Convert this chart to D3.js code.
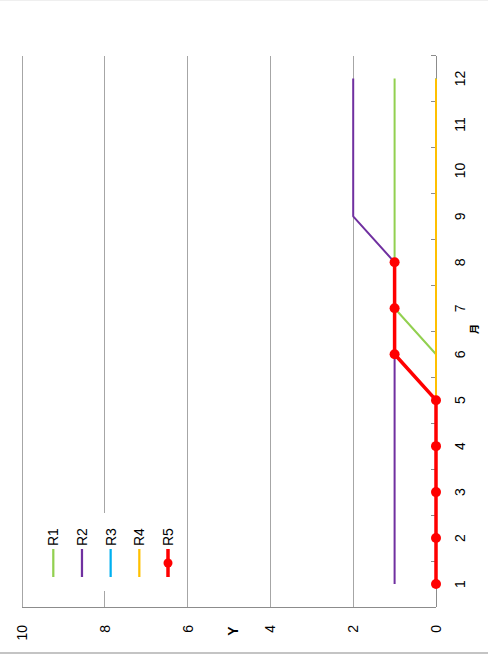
<!DOCTYPE html>
<html>
<head>
<meta charset="utf-8">
<script src="https://cdn.jsdelivr.net/npm/d3@7"></script>
<style>
html,body{margin:0;padding:0;background:#fff;}
svg{display:block;}
</style>
</head>
<body>
<svg id="chart" width="488" height="657"></svg>
<script>
// ---- data ----
const months = [1,2,3,4,5,6,7,8,9,10,11,12];
const seriesNames = ["R1","R2","R3","R4","R5"];
const R1 = [0,0,0,0,0,0,1,1,1,1,1,1];
const R2 = [1,1,1,1,1,1,1,1,2,2,2,2];
const R3 = [0,0,0,0,0,0,0,0,0,0,0,0];
const R4 = [0,0,0,0,0,0,0,0,0,0,0,0];
const R5 = [0,0,0,0,0,1,1,1];
const yTicks = [0,2,4,6,8,10];
const xTitle = "月";
const yTitle = "Y";

const colors = {R1:"#92d050",R2:"#7030a0",R3:"#00b0f0",R4:"#ffc000",R5:"#ff0000"};
const seriesData = {R1,R2,R3,R4,R5};

const svg = d3.select("#chart");
// frame lines of the screenshot
svg.append("rect").attr("x",0).attr("y",0).attr("width",488).attr("height",1).attr("fill","#efefef");
svg.append("rect").attr("x",0).attr("y",652).attr("width",488).attr("height",2).attr("fill","#c4c4c4");

// chart drawn in its own (unrotated) frame 657 x 488, then rotated -90deg
const g = svg.append("g").attr("transform","translate(0,657) rotate(-90)");
const font = "'Liberation Sans', Arial, sans-serif";

const x = d3.scaleLinear().domain([0.5,12.5]).range([50,601.5]);
const y = d3.scaleLinear().domain([0,10]).range([436,22]);

// gridlines
g.append("g").selectAll("line").data(yTicks.filter(d=>d>0)).join("line")
  .attr("x1",x(0.5)).attr("x2",x(12.5))
  .attr("y1",d=>y(d)).attr("y2",d=>y(d))
  .attr("stroke","#a6a6a6").attr("stroke-width",1).attr("shape-rendering","crispEdges");

// value axis line
g.append("line").attr("x1",x(0.5)).attr("x2",x(0.5)).attr("y1",y(0)).attr("y2",y(10))
  .attr("stroke","#8c8c8c").attr("stroke-width",1).attr("shape-rendering","crispEdges");

// category axis line + inside ticks at boundaries
g.append("line").attr("x1",x(0.5)).attr("x2",x(12.5)).attr("y1",y(0)).attr("y2",y(0))
  .attr("stroke","#8c8c8c").attr("stroke-width",1).attr("shape-rendering","crispEdges");
const bounds = d3.range(1.5,13,1);
g.append("g").selectAll("line").data(bounds).join("line")
  .attr("x1",d=>x(d)).attr("x2",d=>x(d))
  .attr("y1",y(0)).attr("y2",y(0)-5.5)
  .attr("stroke","#8c8c8c").attr("stroke-width",1).attr("shape-rendering","crispEdges");

// value labels
g.append("g").selectAll("text").data(yTicks).join("text")
  .attr("x",32).attr("y",d=>y(d)).attr("dy","0.35em")
  .attr("text-anchor","end").attr("font-family",font).attr("font-size",14).attr("fill","#000")
  .text(d=>d);

// month labels
g.append("g").selectAll("text").data(months).join("text")
  .attr("x",d=>x(d)).attr("y",460.5).attr("dy","0.35em")
  .attr("text-anchor","middle").attr("font-family",font).attr("font-size",14).attr("fill","#000")
  .text(d=>d);

// axis titles
g.append("text").attr("x",26).attr("y",233).attr("dy","0.35em").attr("text-anchor","middle")
  .attr("font-family",font).attr("font-weight","bold").attr("font-size",14).text(yTitle);
g.append("text").attr("x",328).attr("y",474.5).attr("dy","0.35em").attr("text-anchor","middle")
  .attr("font-family","'Noto Sans CJK SC', sans-serif").attr("font-weight","bold").attr("font-size",10).text(xTitle);

// series lines
const line = d3.line().x((d,i)=>x(months[i])).y(d=>y(d));
seriesNames.forEach(name=>{
  const vals = seriesData[name];
  const isR5 = name==="R5";
  g.append("path").datum(vals).attr("d",line).attr("fill","none")
    .attr("stroke",colors[name]).attr("stroke-width",isR5?3.5:2)
    .attr("stroke-linejoin","round").attr("stroke-linecap","butt");
  if(isR5){
    g.append("g").selectAll("circle").data(vals).join("circle")
      .attr("cx",(d,i)=>x(months[i])).attr("cy",d=>y(d)).attr("r",5)
      .attr("fill",colors[name]);
  }
});

// legend
const leg = g.append("g");
leg.append("rect").attr("x",66).attr("y",40).attr("width",78).attr("height",142).attr("fill","#fff");
const legY = d3.scalePoint().domain(seriesNames).range([53.3,168]);
seriesNames.forEach(name=>{
  const yy = legY(name);
  leg.append("line").attr("x1",80).attr("x2",108).attr("y1",yy).attr("y2",yy)
    .attr("stroke",colors[name]).attr("stroke-width",name==="R5"?3.5:2.25);
  if(name==="R5") leg.append("circle").attr("cx",94).attr("cy",yy).attr("r",4.5).attr("fill",colors[name]);
  leg.append("text").attr("x",111).attr("y",yy).attr("dy","0.35em")
    .attr("font-family",font).attr("font-size",14).attr("fill","#000").text(name);
});
</script>
</body>
</html>
